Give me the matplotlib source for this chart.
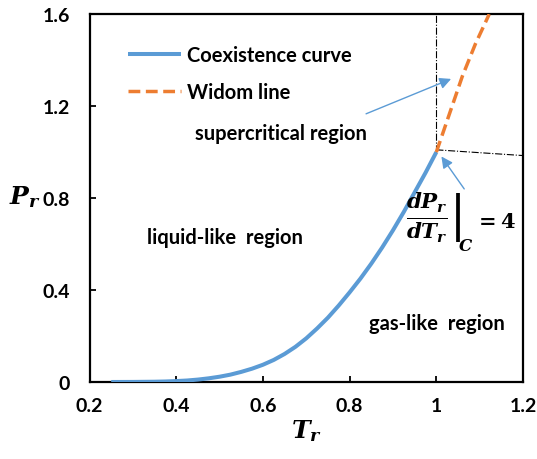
import matplotlib.pyplot as plt

plt.rcParams['mathtext.fontset'] = 'custom'
plt.rcParams['mathtext.it'] = 'DejaVu Serif:italic:bold'
plt.rcParams['mathtext.rm'] = 'DejaVu Serif'
plt.rcParams['mathtext.bf'] = 'DejaVu Serif:bold'

# coexistence curve (reduced units)
tr_coex = [0.25, 0.3, 0.35, 0.375, 0.4, 0.425, 0.45, 0.475, 0.5, 0.525, 0.55, 0.575,
           0.6, 0.625, 0.65, 0.675, 0.7, 0.725, 0.75, 0.775, 0.8, 0.825, 0.85, 0.875,
           0.9, 0.925, 0.95, 0.975, 1.0]
pr_coex = [0.0, 0.0003, 0.0012, 0.0022, 0.004, 0.0065, 0.0105, 0.016, 0.023, 0.032, 0.044, 0.058,
           0.075, 0.096, 0.122, 0.153, 0.19, 0.233, 0.28, 0.333, 0.39, 0.45, 0.515, 0.585,
           0.66, 0.74, 0.825, 0.91, 1.0]

# Widom line above the critical point
tr_widom = [1.0, 1.03, 1.06, 1.09, 1.122]
pr_widom = [1.0, 1.165, 1.33, 1.47, 1.6]

xticks = [0.2, 0.4, 0.6, 0.8, 1.0, 1.2]
xtick_labels = ['0.2', '0.4', '0.6', '0.8', '1', '1.2']
yticks = [0, 0.4, 0.8, 1.2, 1.6]
ytick_labels = ['0', '0.4', '0.8', '1.2', '1.6']

blue = '#5B9BD5'
orange = '#ED7D31'
font = 'Lato'

fig = plt.figure(figsize=(5.37, 4.60), dpi=100)
ax = fig.add_axes([0.1667, 0.1674, 0.8073, 0.7996])

ax.plot(tr_coex, pr_coex, color=blue, lw=2.9, solid_capstyle='butt', label='Coexistence curve', zorder=3)
ax.plot(tr_widom, pr_widom, color=orange, lw=2.5, dashes=(3.4, 1.6), label='Widom line', zorder=3)

# guide lines through the critical point
ax.plot([1.0, 1.0], [1.0, 1.6], color='black', lw=0.8, ls='-.', zorder=2)
ax.plot([1.0, 1.2], [1.01, 0.985], color='black', lw=0.8, ls='-.', zorder=2)

ax.set_xlim(0.2, 1.2)
ax.set_ylim(0, 1.6)
ax.set_xticks(xticks)
ax.set_xticklabels(xtick_labels)
ax.set_yticks(yticks)
ax.set_yticklabels(ytick_labels)
ax.tick_params(direction='in', length=4.5, width=1.3, labelsize=14)
ax.tick_params(axis='x', pad=11)
ax.tick_params(axis='y', pad=14)
for lab in ax.get_xticklabels() + ax.get_yticklabels():
    lab.set_fontfamily(font)
    lab.set_fontweight('bold')
for s in ax.spines.values():
    s.set_linewidth(1.6)

ax.set_xlabel(r'$T_r$', fontsize=18, labelpad=2)
ax.set_ylabel(r'$P_r$', fontsize=18, rotation=0)
ax.yaxis.set_label_coords(-0.15, 0.47)

leg = ax.legend(loc='upper left', bbox_to_anchor=(0.048, 0.965), frameon=False,
                handlelength=2.6, handletextpad=0.3, labelspacing=0.85,
                prop={'family': font, 'weight': 'bold', 'size': 14.5})

txt = dict(fontsize=14.5, fontweight='bold', family=font, ha='center', va='center')
ax.text(0.642, 1.085, 'supercritical region', **txt)
ax.text(0.513, 0.629, 'liquid-like  region', **txt)
ax.text(1.002, 0.258, 'gas-like  region', **txt)

# slope at the critical point
ax.text(0.93, 0.72, r'$\left.\frac{dP_r}{dT_r}\right|$', fontsize=22,
        ha='left', va='center')
ax.text(1.068, 0.595, r'$C$', fontsize=12, ha='center', va='center')
ax.text(1.135, 0.70, r'$\mathbf{= 4}$', fontsize=15, ha='center', va='center')

arrow = dict(arrowstyle='-|>', color=blue, lw=1.0, mutation_scale=17)
ax.annotate('', xy=(1.040, 1.323), xytext=(0.832, 1.162), arrowprops=arrow)
ax.annotate('', xy=(1.008, 0.991), xytext=(1.068, 0.83), arrowprops=arrow)

fig.savefig('out.png', dpi=100)
